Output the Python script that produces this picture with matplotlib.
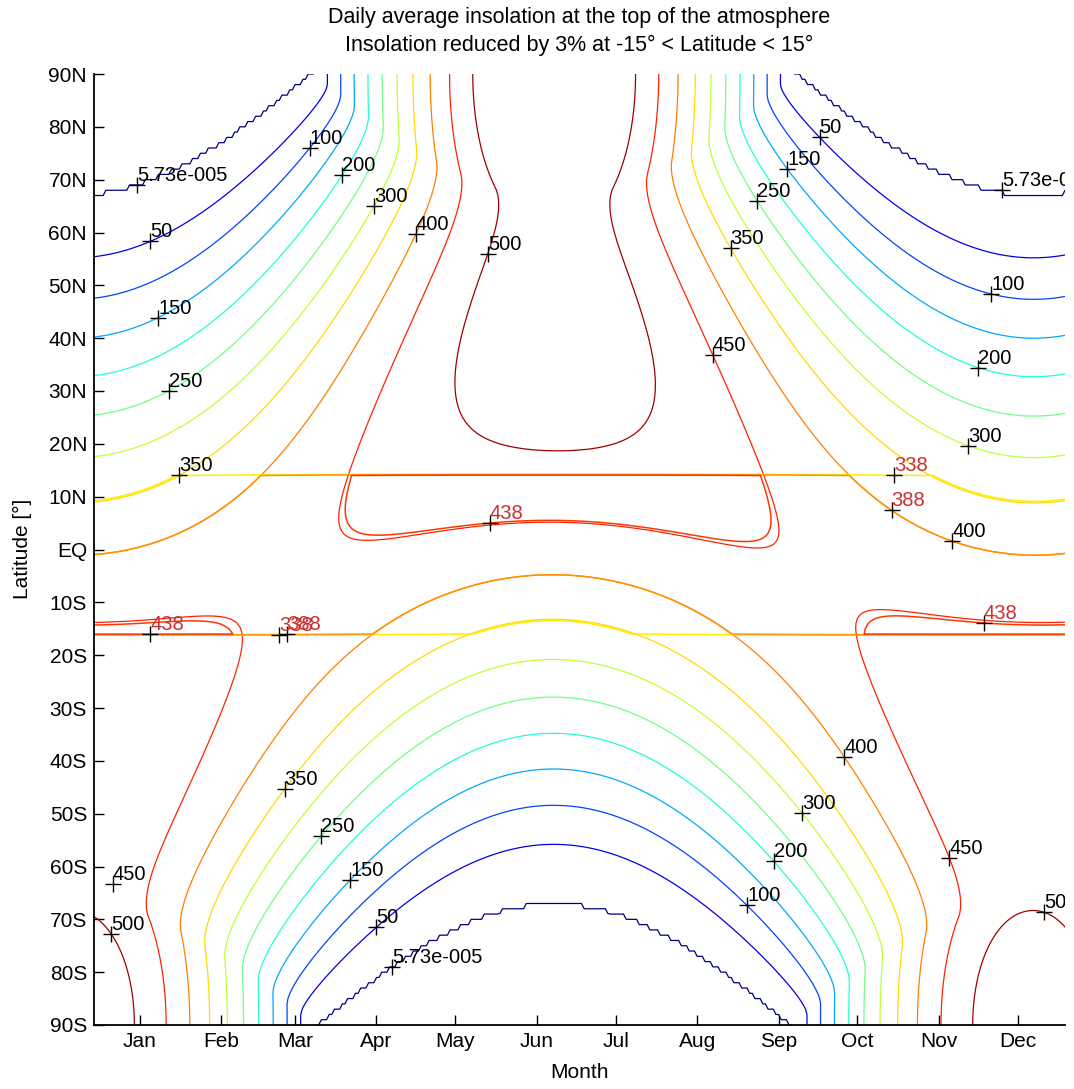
import numpy as np
import matplotlib
matplotlib.use("Agg")
import matplotlib.pyplot as plt
from matplotlib.colors import Normalize

plt.rcParams['font.family'] = ['Liberation Sans', 'DejaVu Sans']

# ---------------- texts / ticks ----------------
title_lines = ["Daily average insolation at the top of the atmosphere",
               "Insolation reduced by 3% at -15\u00b0 < Latitude < 15\u00b0"]
x_label = "Month"
y_label = "Latitude [\u00b0]"
month_names = ["Jan", "Feb", "Mar", "Apr", "May", "Jun",
               "Jul", "Aug", "Sep", "Oct", "Nov", "Dec"]
month_tick_days = [15, 46, 74, 105, 135, 166, 196, 227, 258, 288, 319, 349]
lat_tick_values = [90, 80, 70, 60, 50, 40, 30, 20, 10, 0,
                   -10, -20, -30, -40, -50, -60, -70, -80, -90]
lat_tick_labels = ["90N", "80N", "70N", "60N", "50N", "40N", "30N", "20N", "10N", "EQ",
                   "10S", "20S", "30S", "40S", "50S", "60S", "70S", "80S", "90S"]

# ---------------- parameters of the insolation field (fitted to the picture) -------------
solar_constant = 1404.0        # W m-2
obliquity_deg = 23.44
eccentricity = 0.0185
perihelion_day = 176.0
solstice_phase_day = 10.0      # declination = -obl*cos(2pi(d+10)/365)
reduction_fraction = 0.03
band_lat_north = 14.5          # band rows as they appear in the picture
band_lat_south = -16.5
day_first, day_last = -3, 369
lat_step = 1.0
color_top = 515.0              # value shown with the darkest red

contour_levels = [5.73e-5, 50, 100, 150, 200, 250, 300, 350, 400, 450, 500]
band_levels = [338, 388, 438]

# label anchors: (level, day, latitude)
main_labels = [
    (5.73e-5, 13.9, 69.4), (50, 18.0, 59.0), (150, 20.7, 44.8), (250, 24.9, 31.3),
    (350, 28.7, 15.3), (100, 77.0, 76.9), (200, 89.2, 71.3), (300, 102.5, 65.8),
    (400, 117.7, 60.1), (500, 148.5, 56.3), (450, 234.0, 36.8), (350, 235.6, 55.9),
    (250, 250.8, 66.5), (150, 263.4, 72.5), (50, 275.6, 78.8), (5.73e-5, 344.0, 67.7),
    (100, 339.6, 48.8), (200, 334.5, 34.9), (300, 330.5, 20.8), (400, 325.0, 2.6),
    (500, 2.0, -73.4), (450, 4.7, -63.4), (350, 68.0, -44.4), (250, 82.0, -53.5),
    (150, 93.0, -61.9), (50, 103.0, -70.6), (5.73e-5, 111.0, -78.2),
    (100, 247.0, -66.9), (200, 258.0, -58.4), (300, 269.0, -49.2), (400, 284.8, -38.8),
    (450, 325.7, -58.2), (500, 359.2, -68.6),
]
band_labels = [
    (338, 302.0, 14.2), (388, 303.0, 9.2), (438, 148.0, 5.5), (438, 19.4, -16.1),
    (338, 67.6, -16.2), (388, 71.4, -16.2), (438, 336.4, -12.4),
]

# ---------------- field ----------------
days = np.arange(day_first, day_last + 1, 1.0)
lats = np.arange(-90.0, 90.0 + lat_step / 2, lat_step)
D, L = np.meshgrid(days, lats)
dec = np.deg2rad(-obliquity_deg * np.cos(2 * np.pi * (D + solstice_phase_day) / 365.0))
dist = (1 + eccentricity * np.cos(2 * np.pi * (D - perihelion_day) / 365.0)) ** 2
phi = np.deg2rad(L)
arg = np.clip(-np.tan(phi) * np.tan(dec), -1.0, 1.0)
h0 = np.arccos(arg)
Q = solar_constant / np.pi * dist * (h0 * np.sin(phi) * np.sin(dec)
                                      + np.cos(phi) * np.cos(dec) * np.sin(h0))
Q = np.clip(Q, 0.0, None)
in_band = (L < band_lat_north) & (L > band_lat_south)
Q_band = np.where(in_band, Q * (1 - reduction_fraction), 0.0)

# ---------------- figure ----------------
W, H = 1074, 1089
fig = plt.figure(figsize=(W / 100, H / 100), dpi=100)
ax = fig.add_axes([94 / W, 1 - 1025 / H, (1065 - 94) / W, (1025 - 74) / H])
norm = Normalize(vmin=0.0, vmax=color_top)

cs = ax.contour(D, L, Q, levels=contour_levels, cmap='jet', norm=norm, linewidths=0.9)
cs2 = ax.contour(D, L, Q_band, levels=band_levels, cmap='jet', norm=norm, linewidths=1.1)


def fmt(level):
    if level < 1:
        m, e = f"{level:.2e}".split("e")
        sign = "-" if int(e) < 0 else "+"
        return f"{float(m):g}e{sign}{abs(int(e)):03d}"
    return f"{level:g}"


def place(cset, levels, labels, color):
    for lev, x, y in labels:
        px, py = x, y
        if lev in levels:
            segs = cset.allsegs[levels.index(lev)]
            best = None
            for s in segs:
                if len(s) == 0:
                    continue
                d2 = ((s[:, 0] - x) / 370.0) ** 2 + ((s[:, 1] - y) / 180.0) ** 2
                i = int(np.argmin(d2))
                if best is None or d2[i] < best[0]:
                    best = (d2[i], s[i, 0], s[i, 1])
            if best is not None and best[0] < 0.03 ** 2:
                px, py = best[1], best[2]
        ax.plot([px], [py], marker='+', color='k', ms=11, mew=1.0, ls='none', clip_on=True)
        ax.text(px, py, fmt(lev), fontsize=14.5, color=color, ha='left', va='bottom',
                clip_on=True)


place(cs, contour_levels, main_labels, 'black')
place(cs2, band_levels, band_labels, '#c83232')

ax.set_xlim(-2.5, 367)
ax.set_ylim(-90, 90)
ax.set_xticks(month_tick_days)
ax.set_xticklabels(month_names)
ax.set_yticks(lat_tick_values)
ax.set_yticklabels(lat_tick_labels)
ax.tick_params(direction='in', length=7, width=1.0, labelsize=15, pad=5)
for side in ('top', 'right'):
    ax.spines[side].set_visible(False)
for side in ('left', 'bottom'):
    ax.spines[side].set_linewidth(1.3)

fig.text(22 / W, 1 - 549 / H, y_label, rotation=90, ha='center', va='center', fontsize=15)
fig.text((94 + 1065) / 2 / W, 1 - 1072 / H, x_label, ha='center', va='center', fontsize=15)
fig.text((94 + 1065) / 2 / W, 1 - 17 / H, title_lines[0], ha='center', va='center', fontsize=15.5)
fig.text((94 + 1065) / 2 / W, 1 - 45 / H, title_lines[1], ha='center', va='center', fontsize=15.5)

fig.savefig("out.png", dpi=100, facecolor='white')
